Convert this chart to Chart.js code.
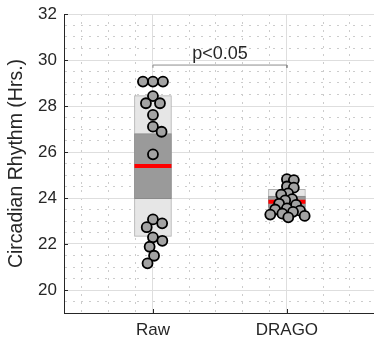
<!DOCTYPE html>
<html lang="en">
<head>
<meta charset="UTF-8">
<title>Circadian Rhythm</title>
<script src="https://cdn.jsdelivr.net/npm/chart.js"></script>
<style>
    body { margin: 0; background: #fff; }
    #caixa { width: 374px; height: 343px; }
</style>
</head>
<body>
<div id="caixa"><canvas id="grafico" width="374" height="343"></canvas></div>

<script>
    // data
    const groups = ['Raw', 'DRAGO'];
    const rawValues = [29.06, 29.06, 29.06, 28.43, 28.12, 28.12, 27.61, 27.10, 26.88, 25.90,
                       23.07, 22.90, 22.73, 22.29, 22.14, 21.88, 21.49, 21.16];
    const dragoValues = [24.82, 24.78, 24.50, 24.45, 24.20, 24.15, 23.95, 23.90, 23.75, 23.70,
                         23.55, 23.50, 23.45, 23.40, 23.32, 23.28, 23.22, 23.16];
    const yTickLabels = [20, 22, 24, 26, 28, 30, 32];
    const pText = 'p<0.05';
    const pLevel = 29.78;

    const minorY = [];
    for (let i = 0; i < 26; i++) minorY.push(19.5 + i * 0.5);
    const xTicks = [0.47, 0.67, 0.87, 1, 1.27, 1.47, 1.67, 1.87, 2, 2.27, 2.47];

    const fonte = "'Liberation Sans', Arial, Helvetica, sans-serif";
    const escuro = '#262626';
    const boxHalf = 0.138;

    // mean, sd and 95% ci for each group
    function stats(v) {
        const n = v.length;
        const m = v.reduce((a, b) => a + b, 0) / n;
        const sd = Math.sqrt(v.reduce((a, b) => a + (b - m) * (b - m), 0) / (n - 1));
        const ci = 1.96 * sd / Math.sqrt(n);
        return { m: m, sd: sd, ci: ci };
    }
    const sRaw = stats(rawValues);
    const sDrago = stats(dragoValues);

    function meanLine(x, s) {
        return [{ x: x - boxHalf, y: s.m }, { x: x + boxHalf, y: s.m }];
    }

    const pontoCfg = {
        type: 'scatter',
        pointRadius: 5,
        pointHoverRadius: 5,
        backgroundColor: '#a3a3a3',
        borderColor: '#000',
        borderWidth: 1.8,
        order: 0
    };

    const dados = {
        datasets: [
            Object.assign({ label: 'Raw', data: rawValues.map(v => ({ x: 1, y: v })) }, pontoCfg),
            Object.assign({ label: 'DRAGO', data: dragoValues.map(v => ({ x: 2, y: v })) }, pontoCfg),
            {
                type: 'line', label: 'mean raw', data: meanLine(1, sRaw),
                borderColor: '#ff0000', borderWidth: 4, pointRadius: 0, borderCapStyle: 'butt', order: 1
            },
            {
                type: 'line', label: 'mean drago', data: meanLine(2, sDrago),
                borderColor: '#ff0000', borderWidth: 4, pointRadius: 0, borderCapStyle: 'butt', order: 1
            },
            {
                type: 'line', label: 'bracket',
                data: [{ x: 1, y: pLevel - 0.12 }, { x: 1, y: pLevel }, { x: 2, y: pLevel }, { x: 2, y: pLevel - 0.12 }],
                borderColor: '#8c8c8c', borderWidth: 1, pointRadius: 0, order: 1
            },
            {
                type: 'bar', label: 'ci',
                data: [
                    { x: 1, y: [sRaw.m - sRaw.ci, sRaw.m + sRaw.ci] },
                    { x: 2, y: [sDrago.m - sDrago.ci, sDrago.m + sDrago.ci] }
                ],
                backgroundColor: '#9a9a9a', borderColor: '#8a8a8a', borderWidth: 1,
                borderSkipped: false, barThickness: 37, grouped: false, order: 2
            },
            {
                type: 'bar', label: 'sd',
                data: [
                    { x: 1, y: [sRaw.m - sRaw.sd, sRaw.m + sRaw.sd] },
                    { x: 2, y: [sDrago.m - sDrago.sd, sDrago.m + sDrago.sd] }
                ],
                backgroundColor: '#e6e6e6', borderColor: '#b0b0b0', borderWidth: 1,
                borderSkipped: false, barThickness: 37, grouped: false, order: 3
            }
        ]
    };

    // p value text and small inward ticks
    const extras = {
        id: 'extras',
        afterDatasetsDraw(chart) {
            const c = chart.ctx;
            const x = chart.scales.x;
            const y = chart.scales.y;
            c.save();
            c.fillStyle = escuro;
            c.font = '18px ' + fonte;
            c.textAlign = 'center';
            c.textBaseline = 'alphabetic';
            c.fillText(pText, x.getPixelForValue(1.5), y.getPixelForValue(pLevel) - 6.5);
            c.strokeStyle = escuro;
            c.lineWidth = 1;
            c.beginPath();
            yTickLabels.forEach(v => {
                const py = Math.round(y.getPixelForValue(v)) + 0.5;
                c.moveTo(chart.chartArea.left, py);
                c.lineTo(chart.chartArea.left + 4, py);
            });
            [1, 2].forEach(v => {
                const px = Math.round(x.getPixelForValue(v)) + 0.5;
                c.moveTo(px, chart.chartArea.bottom);
                c.lineTo(px, chart.chartArea.bottom - 4);
            });
            c.stroke();
            c.restore();
        }
    };

    const config = {
        type: 'scatter',
        data: dados,
        plugins: [extras],
        options: {
            responsive: false,
            animation: false,
            layout: { autoPadding: false, padding: { top: 14, right: 0, left: 0, bottom: 0 } },
            plugins: {
                legend: { display: false },
                tooltip: { enabled: false }
            },
            scales: {
                x: {
                    type: 'linear',
                    min: 0.336,
                    max: 2.65,
                    offset: false,
                    afterBuildTicks: s => { s.ticks = xTicks.map(v => ({ value: v })); },
                    afterFit: s => { s.height = 30; s.paddingLeft = 0; s.paddingRight = 0; },
                    ticks: {
                        autoSkip: false,
                        maxRotation: 0,
                        padding: 7,
                        color: escuro,
                        font: { size: 17, family: fonte },
                        callback: v => v === 1 ? groups[0] : (v === 2 ? groups[1] : '')
                    },
                    grid: {
                        offset: false,
                        drawTicks: false,
                        color: c => c.tick && (c.tick.value === 1 || c.tick.value === 2) ? '#dedede' : '#cccccc'
                    },
                    border: {
                        color: escuro,
                        dash: c => c.tick && c.tick.value !== 1 && c.tick.value !== 2 ? [2, 6] : []
                    }
                },
                y: {
                    type: 'linear',
                    min: 19,
                    max: 32,
                    afterBuildTicks: s => { s.ticks = minorY.map(v => ({ value: v })); },
                    afterFit: s => { s.width = 64; s.paddingTop = 0; s.paddingBottom = 0; },
                    ticks: {
                        autoSkip: false,
                        padding: 7,
                        color: escuro,
                        font: { size: 17, family: fonte },
                        callback: v => yTickLabels.includes(v) ? v : ''
                    },
                    grid: {
                        drawTicks: false,
                        color: c => c.tick && yTickLabels.includes(c.tick.value) ? '#dedede' : '#cccccc'
                    },
                    border: {
                        color: escuro,
                        dash: c => c.tick && !yTickLabels.includes(c.tick.value) ? [2, 6] : []
                    },
                    title: {
                        display: true,
                        text: 'Circadian Rhythm (Hrs.)',
                        color: escuro,
                        font: { size: 19.5, family: fonte },
                        padding: { top: 5, bottom: 0 }
                    }
                }
            }
        }
    };

    const grafico = new Chart(document.getElementById('grafico'), config);

    // spread the points sideways so they don't sit on top of each other
    function enxame(valores, centro, d) {
        const sx = grafico.scales.x;
        const sy = grafico.scales.y;
        const cx = sx.getPixelForValue(centro);
        const feitos = [];
        return valores.map(v => {
            const py = sy.getPixelForValue(v);
            const cand = [0];
            feitos.forEach(p => {
                const dy = py - p.y;
                if (Math.abs(dy) < d) {
                    const dx = Math.sqrt(d * d - dy * dy);
                    cand.push(p.x + dx, p.x - dx);
                }
            });
            cand.sort((a, b) => Math.abs(a) - Math.abs(b));
            const ox = cand.find(c => feitos.every(p => Math.hypot(c - p.x, py - p.y) >= d - 1e-6));
            feitos.push({ x: ox, y: py });
            return { x: sx.getValueForPixel(cx + ox), y: v };
        });
    }

    grafico.data.datasets[0].data = enxame(rawValues, 1, 10);
    grafico.data.datasets[1].data = enxame(dragoValues, 2, 7);
    grafico.update('none');
</script>
</body>
</html>
